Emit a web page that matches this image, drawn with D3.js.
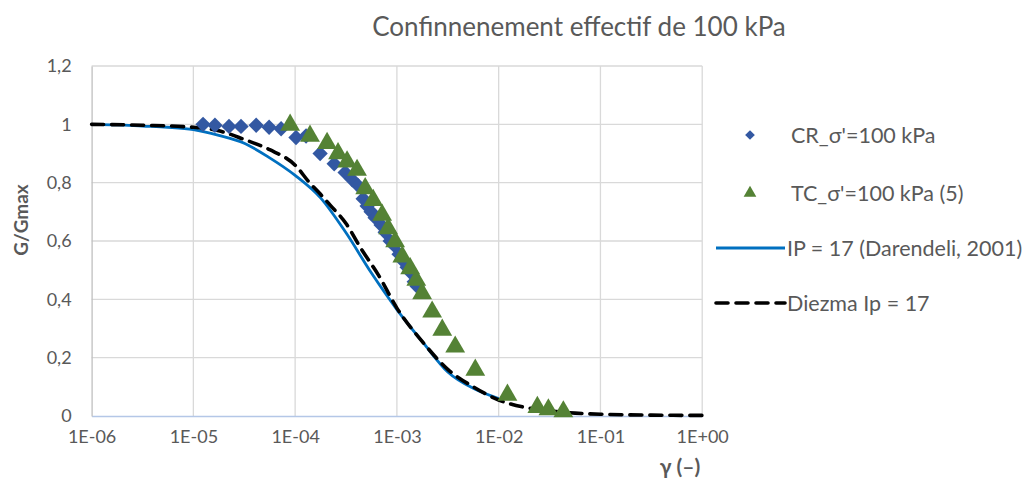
<!DOCTYPE html>
<html><head><meta charset="utf-8">
<script src="https://cdn.jsdelivr.net/npm/d3@7"></script>
<style>
html,body{margin:0;padding:0;background:#fff;}
svg{display:block;font-family:Lato,"Open Sans",sans-serif;}
</style></head>
<body><svg id="c" width="1035" height="484"></svg>
<script>
// ---- data ----
const chartTitle = "Confinnenement effectif de 100 kPa";
const xTicks = [1e-6, 1e-5, 1e-4, 1e-3, 1e-2, 1e-1, 1];
const yTicks = [0, 0.2, 0.4, 0.6, 0.8, 1.0, 1.2];
const seriesNames = ["CR_σ'=100 kPa", "TC_σ'=100 kPa (5)", "IP = 17 (Darendeli, 2001)", "Diezma Ip = 17"];

const crGamma = [1.245e-5,1.63e-5,2.24e-5,2.94e-5,4.14e-5,5.55e-5,7.28e-5,1.02e-4,1.28e-4,1.76e-4,2.42e-4,3.10e-4,3.64e-4,4.16e-4,4.66e-4,5.10e-4,5.58e-4,6.11e-4,7.00e-4,7.67e-4,8.59e-4,9.40e-4,1.05e-3,1.13e-3,1.26e-3,1.38e-3,1.48e-3,1.58e-3];
const crG     = [1.00,0.997,0.993,0.993,0.997,0.99,0.985,0.955,0.96,0.90,0.865,0.835,0.81,0.79,0.745,0.72,0.70,0.68,0.655,0.63,0.60,0.585,0.555,0.535,0.51,0.49,0.46,0.445];

const tcGamma = [8.93e-5,1.40e-4,2.06e-4,2.64e-4,3.24e-4,4.06e-4,4.88e-4,5.85e-4,7.16e-4,8.20e-4,9.61e-4,1.13e-3,1.35e-3,1.55e-3,1.77e-3,2.22e-3,2.79e-3,3.74e-3,5.89e-3,1.22e-2,2.40e-2,3.08e-2,4.32e-2];
const tcG     = [0.998,0.960,0.935,0.900,0.872,0.843,0.780,0.740,0.689,0.643,0.598,0.546,0.506,0.466,0.420,0.357,0.295,0.237,0.158,0.072,0.030,0.022,0.015];

const darGamma = [1e-6,1.778e-6,3.162e-6,5.623e-6,1e-5,1.778e-5,3.162e-5,5.623e-5,1e-4,1.778e-4,3.162e-4,5.623e-4,1e-3,1.778e-3,3.162e-3,5.623e-3,1e-2];
const darG     = [1.0,0.998,0.994,0.99,0.982,0.962,0.935,0.885,0.825,0.748,0.628,0.49,0.365,0.255,0.151,0.095,0.060];

const dieGamma = [1e-6,3.162e-6,1e-5,1.778e-5,3.162e-5,5.623e-5,1e-4,1.40e-4,1.778e-4,2.21e-4,3.162e-4,4.53e-4,5.623e-4,6.59e-4,1e-3,1.778e-3,3.162e-3,5.623e-3,1e-2,1.778e-2,3.162e-2,5.623e-2,1e-1,3.162e-1,1];
const dieG     = [1.0,0.997,0.99,0.978,0.948,0.913,0.86,0.798,0.76,0.723,0.66,0.569,0.52,0.483,0.37,0.255,0.16,0.10,0.055,0.03,0.018,0.01,0.006,0.003,0.002];

// ---- layout ----
const svg = d3.select("#c");
const x = d3.scaleLog().domain([1e-6, 1]).range([91.6, 702.2]);
const y = d3.scaleLinear().domain([0, 1.2]).range([416, 66]);
const txt = "#595959";
const loc = d3.formatLocale({decimal: ",", thousands: " ", grouping: [3], currency: ["", ""]});
const fy = loc.format("~g");
const fx = d => { const e = Math.round(Math.log10(d)); return "1E" + (e < 0 ? "-" : "+") + String(Math.abs(e)).padStart(2, "0"); };

// gridlines
svg.append("g").selectAll("line").data(yTicks.filter(d => d > 0)).join("line")
  .attr("x1", x(1e-6)).attr("x2", x(1)).attr("y1", d => y(d)).attr("y2", d => y(d))
  .attr("stroke", "#d9d9d9").attr("stroke-width", 1.3);
svg.append("g").selectAll("line").data(xTicks.slice(1)).join("line")
  .attr("x1", d => x(d)).attr("x2", d => x(d)).attr("y1", y(0)).attr("y2", y(1.2))
  .attr("stroke", "#d9d9d9").attr("stroke-width", 1.3);

// axes
const xAxis = svg.append("g").attr("transform", `translate(0,${y(0)})`)
  .call(d3.axisBottom(x).tickValues(xTicks).tickFormat(fx).tickSize(0).tickPadding(14));
xAxis.select(".domain").attr("stroke", "#b4c7e7").attr("stroke-width", 1.3);
xAxis.selectAll("text").attr("fill", txt).attr("font-size", 18).attr("font-family", "Lato, sans-serif");

const yAxis = svg.append("g").attr("transform", `translate(${x(1e-6)},0)`)
  .call(d3.axisLeft(y).tickValues(yTicks).tickFormat(fy).tickSize(0).tickPadding(20));
yAxis.select(".domain").attr("stroke", "#bfbfbf").attr("stroke-width", 1.3);
yAxis.selectAll("text").attr("fill", txt).attr("font-size", 18).attr("font-family", "Lato, sans-serif");

// curves
const line = d3.line().x(d => x(d[0])).y(d => y(d[1])).curve(d3.curveMonotoneX);
svg.append("path").datum(d3.zip(darGamma, darG)).attr("d", line)
  .attr("fill", "none").attr("stroke", "#0070c0").attr("stroke-width", 2.8);
svg.append("path").datum(d3.zip(dieGamma, dieG)).attr("d", line)
  .attr("fill", "none").attr("stroke", "#000").attr("stroke-width", 3.6)
  .attr("stroke-dasharray", "12,8").attr("stroke-linecap", "round");

// markers
const diamond = d3.symbol().type(d3.symbolDiamond2).size(150);
const tri = d3.symbol().type(d3.symbolTriangle).size(170);
svg.append("g").selectAll("path").data(d3.zip(crGamma, crG)).join("path")
  .attr("d", diamond).attr("transform", d => `translate(${x(d[0])},${y(d[1])})`)
  .attr("fill", "#3358a2");
svg.append("g").selectAll("path").data(d3.zip(tcGamma, tcG)).join("path")
  .attr("d", tri).attr("transform", d => `translate(${x(d[0])},${y(d[1])})`)
  .attr("fill", "#548235");

// titles
svg.append("text").attr("x", 579).attr("y", 36).attr("text-anchor", "middle")
  .attr("font-size", 26).attr("fill", txt).text(chartTitle);
svg.append("text").attr("transform", "translate(28,220) rotate(-90)").attr("text-anchor", "middle")
  .attr("font-size", 19).attr("font-weight", "bold").attr("fill", txt).text("G/Gmax");
svg.append("text").attr("x", 680).attr("y", 474).attr("text-anchor", "middle")
  .attr("font-size", 21).attr("font-weight", "bold").attr("fill", txt).text("γ (–)");

// legend
const lg = svg.append("g");
const ly = [135, 193, 248, 303];
lg.append("path").attr("d", d3.symbol().type(d3.symbolDiamond2).size(60)).attr("transform", `translate(750,${ly[0]})`).attr("fill", "#3358a2");
lg.append("path").attr("d", d3.symbol().type(d3.symbolTriangle).size(70)).attr("transform", `translate(750,${ly[1]})`).attr("fill", "#548235");
lg.append("line").attr("x1", 716).attr("x2", 785).attr("y1", ly[2]).attr("y2", ly[2]).attr("stroke", "#0070c0").attr("stroke-width", 2.8);
lg.append("line").attr("x1", 716).attr("x2", 785).attr("y1", ly[3]).attr("y2", ly[3]).attr("stroke", "#000").attr("stroke-width", 3.6).attr("stroke-dasharray", "12,8").attr("stroke-linecap", "round");
const lx = [791, 791, 787, 787];
lg.selectAll("text").data(seriesNames).join("text")
  .attr("x", (d, i) => lx[i]).attr("y", (d, i) => ly[i]).attr("dy", "0.35em")
  .attr("font-size", 21.5).attr("fill", txt).text(d => d);
</script></body></html>
